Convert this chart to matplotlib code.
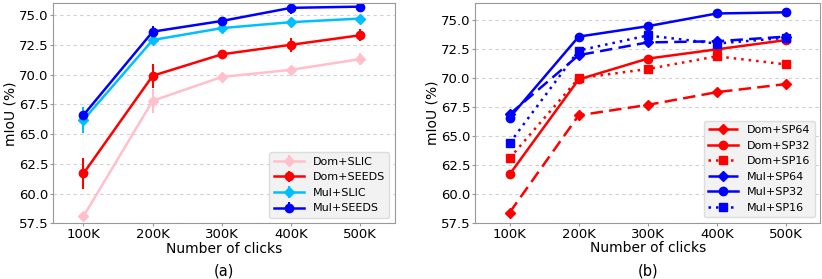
import matplotlib
matplotlib.use("Agg")
import matplotlib.pyplot as plt

clicks = ["100K", "200K", "300K", "400K", "500K"]

# Panel (a)
dom_slic = [58.1, 67.8, 69.8, 70.4, 71.3]
dom_slic_err = [0.2, 1.0, 0.3, 0.3, 0.5]
dom_seeds = [61.7, 69.9, 71.7, 72.5, 73.3]
dom_seeds_err = [1.3, 1.0, 0.2, 0.6, 0.5]
mul_slic = [66.2, 72.9, 73.9, 74.4, 74.7]
mul_slic_err = [1.1, 0.3, 0.2, 0.2, 0.2]
mul_seeds = [66.6, 73.6, 74.5, 75.6, 75.7]
mul_seeds_err = [0.3, 0.45, 0.2, 0.5, 0.3]

# Panel (b)
dom_sp64 = [58.4, 66.8, 67.7, 68.8, 69.5]
dom_sp32 = [61.7, 69.9, 71.7, 72.5, 73.3]
dom_sp16 = [63.1, 70.0, 70.8, 71.9, 71.2]
mul_sp64 = [66.9, 72.0, 73.1, 73.2, 73.6]
mul_sp32 = [66.6, 73.6, 74.5, 75.6, 75.7]
mul_sp16 = [64.4, 72.4, 73.7, 73.0, 73.5]

yticks = [57.5, 60.0, 62.5, 65.0, 67.5, 70.0, 72.5, 75.0]

fig = plt.figure(figsize=(8.22, 2.79), dpi=100)
ax1 = fig.add_axes([0.0645, 0.199, 0.416, 0.79])
ax2 = fig.add_axes([0.578, 0.201, 0.42, 0.788])

x = list(range(1, len(clicks) + 1))

def style(ax, ylim, xlim):
    ax.set_xticks(x)
    ax.set_xticklabels(clicks, fontsize=9.5)
    ax.set_yticks(yticks)
    ax.set_yticklabels([f"{v:.1f}" for v in yticks], fontsize=9.5)
    ax.set_ylim(*ylim)
    ax.set_xlim(*xlim)
    ax.yaxis.grid(True, linestyle=(0, (3, 3)), color="#d0d0d0", linewidth=0.8)
    ax.set_axisbelow(True)
    for s in ax.spines.values():
        s.set_color("#999999")
    ax.tick_params(length=2, color="#999999", pad=1.5)
    ax.set_xlabel("Number of clicks", fontsize=10, labelpad=0.5)
    ax.set_ylabel("mIoU (%)", fontsize=10, labelpad=1)

series_a = [
    (dom_slic, dom_slic_err, "pink", "D", "Dom+SLIC"),
    (dom_seeds, dom_seeds_err, "red", "o", "Dom+SEEDS"),
    (mul_slic, mul_slic_err, "deepskyblue", "D", "Mul+SLIC"),
    (mul_seeds, mul_seeds_err, "blue", "o", "Mul+SEEDS"),
]
for vals, err, c, m, lab in series_a:
    ax1.errorbar(x, vals, yerr=err, color=c, marker=m, markersize=5.5 if m == "D" else 6,
                 linewidth=1.8, elinewidth=1.5, capsize=0, label=lab)
style(ax1, (57.5, 76.0), (0.56, 5.5))
ax1.legend(loc="lower right", fontsize=8, facecolor="#f2f2f2", edgecolor="#dddddd",
           framealpha=1, borderaxespad=0.5, handlelength=2.7)

series_b = [
    (dom_sp64, "red", "D", (0, (5, 2.5)), "Dom+SP64"),
    (dom_sp32, "red", "o", "-", "Dom+SP32"),
    (dom_sp16, "red", "s", (0, (1, 2)), "Dom+SP16"),
    (mul_sp64, "blue", "D", (0, (5, 2.5)), "Mul+SP64"),
    (mul_sp32, "blue", "o", "-", "Mul+SP32"),
    (mul_sp16, "blue", "s", (0, (1, 2)), "Mul+SP16"),
]
for vals, c, m, ls, lab in series_b:
    ax2.plot(x, vals, color=c, marker=m, linestyle=ls, linewidth=1.8,
             markersize=5.5 if m == "D" else 6, label=lab)
style(ax2, (57.5, 76.5), (0.5, 5.5))
ax2.legend(loc="lower right", fontsize=8, facecolor="#f2f2f2", edgecolor="#dddddd",
           framealpha=1, borderaxespad=0.5, handlelength=2.7)

fig.text(0.2725, 0.003, "(a)", ha="center", va="bottom", fontsize=10.5)
fig.text(0.788, 0.003, "(b)", ha="center", va="bottom", fontsize=10.5)

fig.savefig("out.png", dpi=100)
